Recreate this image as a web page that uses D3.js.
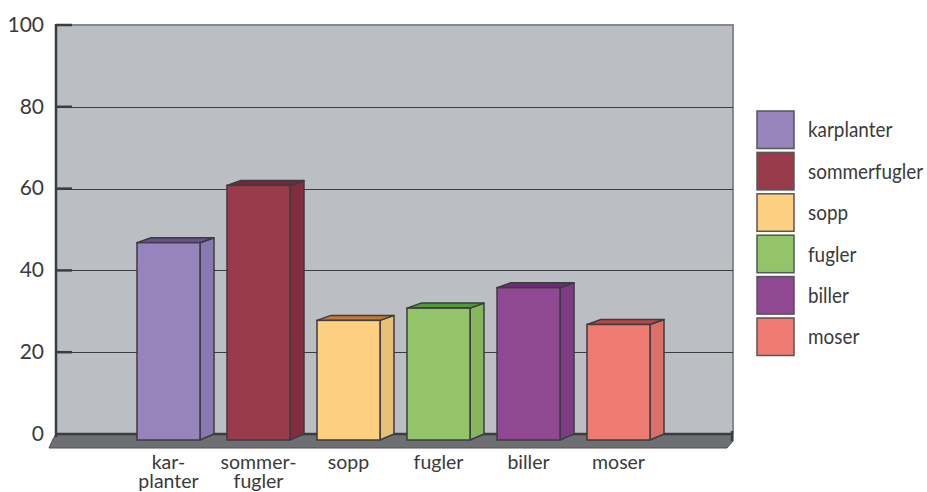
<!DOCTYPE html>
<html><head><meta charset="utf-8">
<script src="https://cdn.jsdelivr.net/npm/d3@7"></script>
<style>html,body{margin:0;padding:0;background:#fff;}svg{display:block;}</style>
</head><body>
<svg id="c" width="927" height="492"></svg>
<script>
const categories = ["karplanter","sommerfugler","sopp","fugler","biller","moser"];
const axisLabels = [["kar-","planter"],["sommer-","fugler"],["sopp"],["fugler"],["biller"],["moser"]];
const values = [48, 62, 29, 32, 37, 28];
const yTicks = [0,20,40,60,80,100];
const frontColors = ["#9784bc","#983c4b","#fdcf80","#93c46a","#8f4891","#ef7a72"];
const sideColors  = ["#8a79b0","#822d3d","#e9bf78","#86b65e","#7f3c84","#dc6f69"];
const topColors   = ["#6a4f93","#7a2535","#c27a32","#4f9a3b","#6a2c72","#b94545"];

const svg = d3.select("#c");
const X0 = 56, X1 = 733, Y0 = 434, Y1 = 25;
const y = d3.scaleLinear().domain([0,100]).range([Y0, Y1]);
const x = d3.scaleBand().domain(categories).range([123.5, 663.5]).paddingInner(0.3).paddingOuter(0.15);
const DX = 14, DY = 5, FO = 5; // depth and front offset
const font = "Lato, 'Open Sans', sans-serif";
const dark = "#3b3d40";

// plot background
svg.append("rect").attr("x", X0).attr("y", Y1).attr("width", X1 - X0).attr("height", Y0 - Y1).attr("fill", "#bbbec2");
svg.append("path").attr("d", `M${X0},${Y1}H${X1}V${Y0}`).attr("fill","none").attr("stroke","#88898c").attr("stroke-width",2);

// gridlines
svg.append("g").selectAll("line").data(yTicks.filter(t => t > 0 && t < 100)).join("line")
  .attr("x1", X0).attr("x2", X1).attr("y1", d => Math.round(y(d))+0.5).attr("y2", d => Math.round(y(d))+0.5)
  .attr("stroke", dark).attr("stroke-width", 1);

// floor
svg.append("path")
  .attr("d", `M${X0},${Y0}L${X1},${Y0}L${X1},${Y0+7}L${X1-6},${Y0+14}L${X0-7},${Y0+14}L${X0-3},${Y0+5}Z`)
  .attr("fill", "#6e6f72").attr("stroke", "#505154").attr("stroke-width", 1);
svg.append("line").attr("x1", X0).attr("x2", X1).attr("y1", Y0).attr("y2", Y0).attr("stroke", dark).attr("stroke-width", 2.5);
svg.append("line").attr("x1", X1-1).attr("x2", X1-1).attr("y1", Y0-3).attr("y2", Y0+7).attr("stroke", dark).attr("stroke-width", 2.5);

// y axis
const yAxis = d3.axisLeft(y).tickValues(yTicks).tickSize(0).tickPadding(12);
const ga = svg.append("g").attr("transform", `translate(${X0},0)`).call(yAxis);
ga.select(".domain").remove();
ga.selectAll("text").attr("font-family", font).attr("font-size", 21).attr("fill", "#3a3a3a").attr("dy", "0.3em");
svg.append("line").attr("x1", X0).attr("x2", X0).attr("y1", Y1 - 1).attr("y2", Y0 + 3).attr("stroke", dark).attr("stroke-width", 2.5);
svg.append("g").selectAll("line").data(yTicks.filter(t => t > 0)).join("line")
  .attr("x1", X0).attr("x2", X0 + 16).attr("y1", d => y(d)).attr("y2", d => y(d))
  .attr("stroke", dark).attr("stroke-width", 2.5);

// bars
const bars = svg.append("g").selectAll("g").data(categories).join("g");
const bw = x.bandwidth();
bars.each(function(c, i) {
  const g = d3.select(this);
  const x0 = x(c), top = y(values[i]) + FO, bot = y(0) + FO + 1;
  g.append("path").attr("d", `M${x0+bw},${top}L${x0+bw+DX},${top-DY}L${x0+bw+DX},${bot-DY-1}L${x0+bw},${bot}Z`)
    .attr("fill", sideColors[i]).attr("stroke", dark).attr("stroke-width", 1.5).attr("stroke-linejoin","round");
  g.append("path").attr("d", `M${x0},${top}L${x0+DX},${top-DY}L${x0+bw+DX},${top-DY}L${x0+bw},${top}Z`)
    .attr("fill", topColors[i]).attr("stroke", dark).attr("stroke-width", 1.5).attr("stroke-linejoin","round");
  g.append("rect").attr("x", x0).attr("y", top).attr("width", bw).attr("height", bot - top)
    .attr("fill", frontColors[i]).attr("stroke", dark).attr("stroke-width", 1.5);
});

// x labels
const xl = svg.append("g").selectAll("text").data(categories).join("text")
  .attr("x", c => x(c) + bw / 2).attr("y", 469)
  .attr("text-anchor", "middle").attr("font-family", font).attr("font-size", 19.5).attr("fill", "#3a3a3a");
xl.each(function(c, i) {
  const t = d3.select(this);
  axisLabels[i].forEach((s, j) => t.append("tspan").attr("x", x(c) + bw / 2).attr("dy", j === 0 ? 0 : 19).text(s));
});

// legend
const lg = svg.append("g").attr("transform", "translate(757,111)");
const li = lg.selectAll("g").data(categories).join("g").attr("transform", (d, i) => `translate(0,${i * 41.4})`);
li.append("rect").attr("width", 37).attr("height", 37.5).attr("fill", (d, i) => frontColors[i]).attr("stroke", "#555658").attr("stroke-width", 1.5);
li.append("text").attr("transform", "translate(51,19) scale(0.9,1)").attr("dy", "0.35em").attr("font-family", font)
  .attr("font-size", 21).attr("fill", "#3a3a3a").text(d => d);
</script>
</body></html>
